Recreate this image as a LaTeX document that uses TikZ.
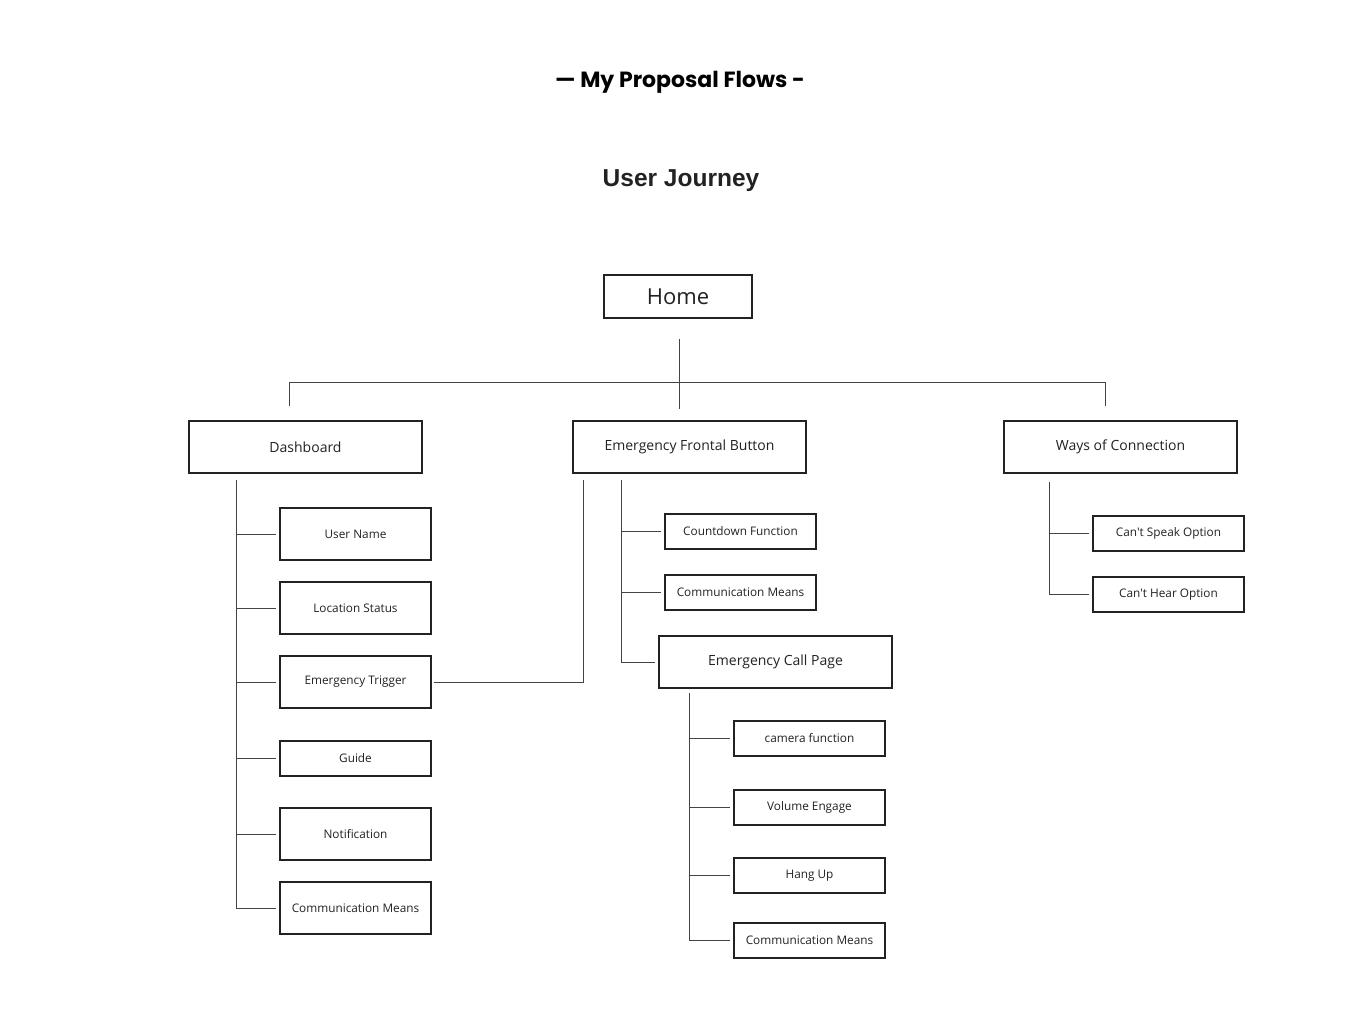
\documentclass[tikz,border=0pt]{standalone}
\usepackage{fontspec}
\setmainfont[Ligatures=TeXOff]{Open Sans}
\newfontfamily\titlefont{Poppins}
\newfontfamily\headfont{Liberation Sans}
\usetikzlibrary{calc}
\definecolor{ink}{HTML}{222222}
\definecolor{linecol}{HTML}{444444}
\tikzset{
  box/.style 2 args={draw=ink, line width=1.8pt, fill=white, inner sep=0pt,
    minimum width=#1pt, minimum height=#2pt, text=ink, font=\fontsize{11.8}{14}\selectfont},
  bigbox/.style={font=\fontsize{14}{16}\selectfont},
  conn/.style={draw=linecol, line width=1pt}
}
\begin{document}
\begin{tikzpicture}[x=1pt,y=-1pt]
\useasboundingbox (0,0) rectangle (1360,1029);
\fill[white] (0,0) rectangle (1360,1029);

\node[font=\titlefont\bfseries\fontsize{22}{26}\selectfont, text=black] (title) at (680,82.5) {— My Proposal Flows -};
\node[font=\headfont\bfseries\fontsize{24.5}{28}\selectfont, text=ink] (journey) at (681,181) {User Journey};

% level 0 and 1
\node[box={148}{43}, font=\fontsize{22}{26}\selectfont] (home) at (678,296.5) {Home};
\node[box={233}{52}, bigbox] (dash) at (305.5,447) {Dashboard};
\node[box={233}{52}, bigbox] (efb) at (689.5,447) {Emergency Frontal Button};
\node[box={233}{52}, bigbox] (ways) at (1120.5,447) {Ways of Connection};

% dashboard children
\node[box={151}{52}] (un) at (355.5,534) {User Name};
\node[box={151}{52}] (loc) at (355.5,608) {Location Status};
\node[box={151}{52}] (trig) at (355.5,682) {Emergency Trigger};
\node[box={151}{35}] (guide) at (355.5,758.5) {Guide};
\node[box={151}{52}] (notif) at (355.5,834) {Notification};
\node[box={151}{52}] (dcomm) at (355.5,908) {Communication Means};

% EFB children
\node[box={151}{35}] (count) at (740.5,531.5) {Countdown Function};
\node[box={151}{35}] (ecomm) at (740.5,592.5) {Communication Means};
\node[box={233}{52}, bigbox] (ecp) at (775.5,662) {Emergency Call Page};

% ECP children
\node[box={151}{35}] (cam) at (809.5,738.5) {camera function};
\node[box={151}{35}] (vol) at (809.5,807.5) {Volume Engage};
\node[box={151}{35}] (hang) at (809.5,875.5) {Hang Up};
\node[box={151}{35}] (ccomm) at (809.5,940.5) {Communication Means};

% Ways children
\node[box={151}{35}] (speak) at (1168.5,533.5) {Can't Speak Option};
\node[box={151}{35}] (hear) at (1168.5,594.5) {Can't Hear Option};

% home to level 1
\coordinate (hstart) at ($(home.south)+(1,20)$);
\coordinate (hbar) at ($(home.south)+(1,64)$);
\draw[conn] (hstart) -- ($(efb.north)+(-10.5,-11)$);
\draw[conn] ($(dash.north)+(-16.5,-14)$) |- (hbar) -| ($(ways.north)+(-15.5,-14)$);

% dashboard tree
\coordinate (dtop) at ($(dash.south west)+(48,6)$);
\draw[conn] (dtop) |- ([xshift=-3pt]dcomm.west);
\foreach \n in {un,loc,trig,guide,notif}
  \draw[conn] (dtop |- \n.west) -- ([xshift=-3pt]\n.west);

% trigger to EFB
\draw[conn] ([xshift=2pt]trig.east) -| ($(efb.south west)+(11,6)$);

% EFB tree
\coordinate (etop) at ($(efb.south west)+(49,6)$);
\draw[conn] (etop) |- ([xshift=-3pt]ecp.west);
\foreach \n in {count,ecomm}
  \draw[conn] (etop |- \n.west) -- ([xshift=-3pt]\n.west);

% ECP tree
\coordinate (ctop) at ($(ecp.south west)+(31,4)$);
\draw[conn] (ctop) |- ([xshift=-3pt]ccomm.west);
\foreach \n in {cam,vol,hang}
  \draw[conn] (ctop |- \n.west) -- ([xshift=-3pt]\n.west);

% Ways tree
\coordinate (wtop) at ($(ways.south west)+(46,8)$);
\draw[conn] (wtop) |- ([xshift=-3pt]hear.west);
\draw[conn] (wtop |- speak.west) -- ([xshift=-3pt]speak.west);
\end{tikzpicture}
\end{document}
